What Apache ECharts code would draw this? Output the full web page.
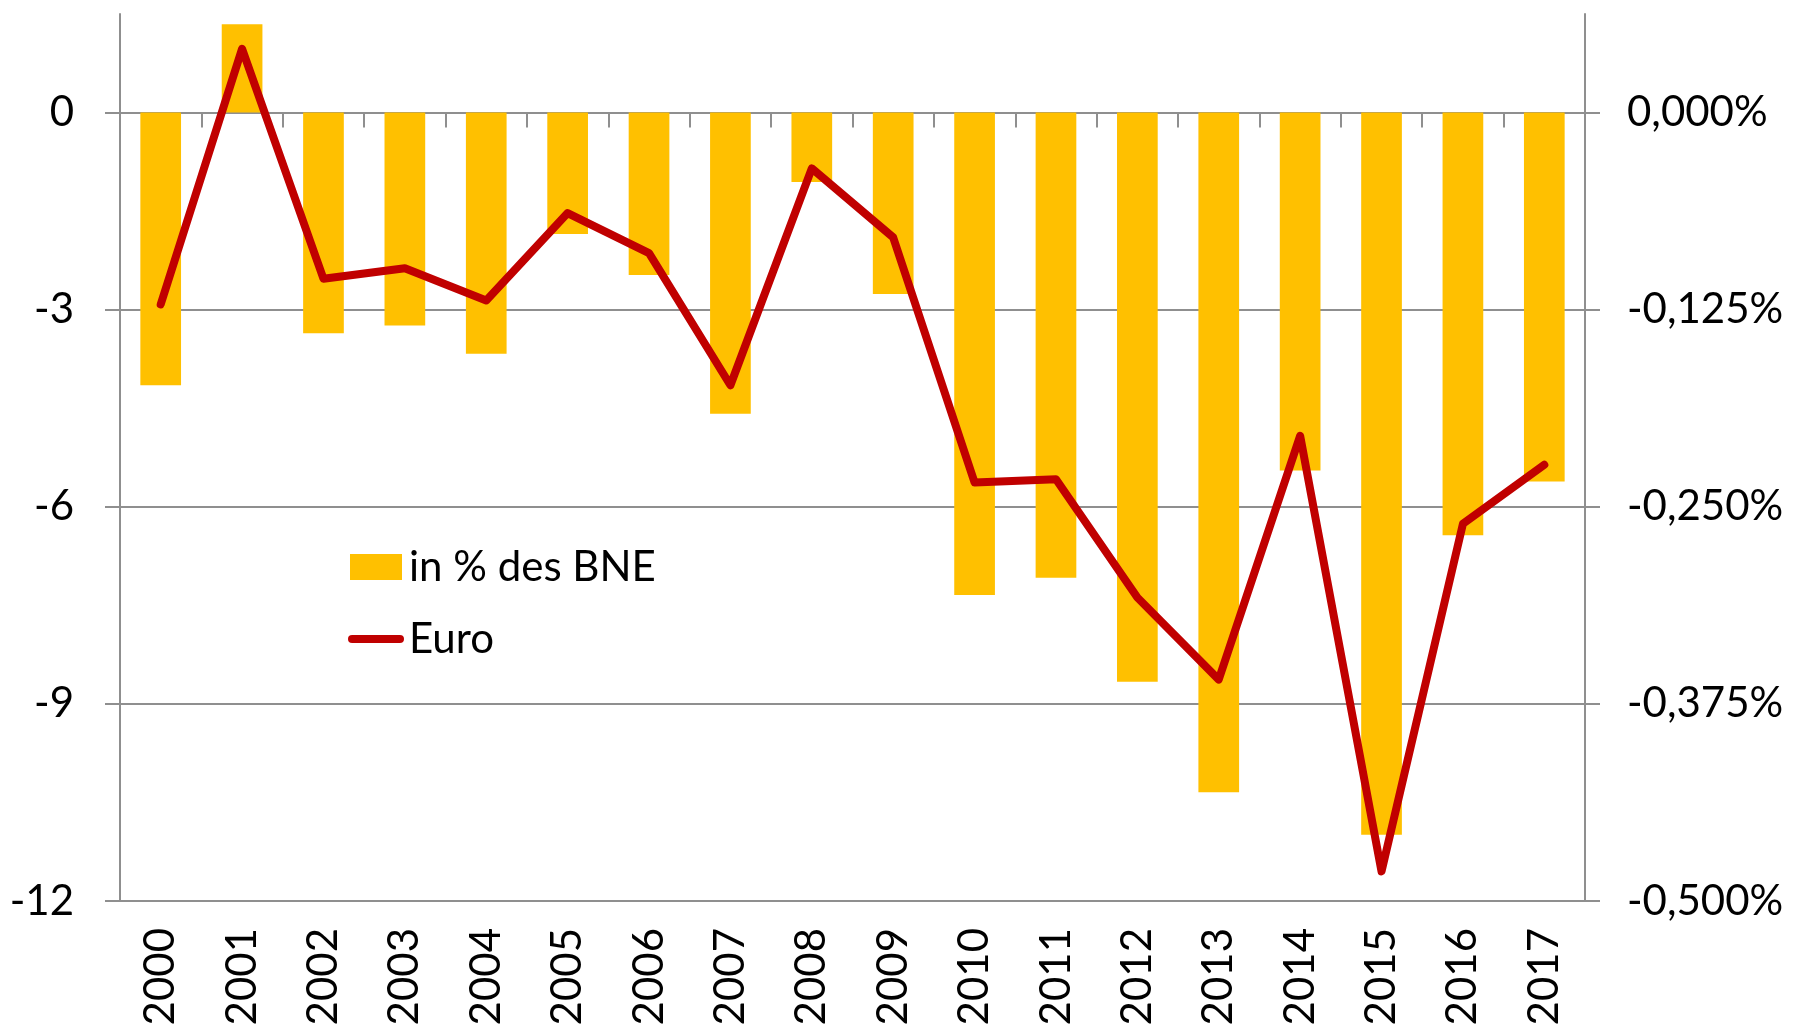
<!DOCTYPE html>
<html>
<head>
<meta charset="utf-8">
<script src="https://cdn.jsdelivr.net/npm/echarts@6/dist/echarts.min.js"></script>
<style>
	html, body { margin: 0; padding: 0; background: #fff; }
	#chart { width: 1793px; height: 1030px; }
</style>
</head>
<body>
<div id="chart"></div>
<script>
	// Jahre
	var years = ['2000', '2001', '2002', '2003', '2004', '2005', '2006', '2007', '2008',
		'2009', '2010', '2011', '2012', '2013', '2014', '2015', '2016', '2017']
	// in % des BNE (rechte Achse)
	var bnePct = [-0.173, 0.056, -0.140, -0.135, -0.153, -0.077, -0.103, -0.191, -0.044,
		-0.115, -0.306, -0.295, -0.361, -0.431, -0.227, -0.458, -0.268, -0.234]
	// Euro (linke Achse)
	var euro = [-2.92, 0.97, -2.53, -2.37, -2.86, -1.53, -2.14, -4.15, -0.85,
		-1.90, -5.63, -5.58, -7.38, -8.63, -4.92, -11.55, -6.26, -5.36]
	var leftTicks = [-12, -9, -6, -3, 0]
	var rightTicks = [-0.5, -0.375, -0.25, -0.125, 0]

	var font = 'Lato'
	var grey = '#8f8f8f'

	var chart = echarts.init(document.getElementById('chart'))
	var option = {
		animation: false,
		textStyle: { fontFamily: font },
		grid: { left: 120, right: 208, top: 14, bottom: 129 },
		legend: {
			orient: 'vertical',
			left: 343,
			top: 541,
			itemWidth: 56,
			itemHeight: 26,
			itemGap: 30,
			textStyle: { fontFamily: font, fontSize: 42, color: '#000' },
			data: [
				{ name: 'in % des BNE', icon: 'path://M0,0L52,0L52,26L0,26Z' },
				{ name: 'Euro', icon: 'path://M4.5,0L57.5,0A4.5,4.5,0,0,1,57.5,9L4.5,9A4.5,4.5,0,0,1,4.5,0Z' }
			]
		},
		xAxis: [
			{
				type: 'category',
				data: years,
				position: 'bottom',
				axisLine: { show: false, onZero: false },
				axisTick: { show: false },
				axisLabel: { rotate: 90, margin: 27, fontSize: 42, color: '#000', fontFamily: font, interval: 0 }
			},
			{
				type: 'category',
				data: years,
				position: 'bottom',
				axisLine: { show: true, onZero: true, lineStyle: { color: grey, width: 2 } },
				axisTick: { show: true, inside: false, length: 15, lineStyle: { color: grey, width: 2 } },
				axisLabel: { show: false }
			}
		],
		yAxis: [
			{
				type: 'value',
				min: -12,
				max: 1.5,
				interval: 3,
				axisLine: { show: true, lineStyle: { color: grey, width: 2 } },
				axisTick: { show: true, length: 15, customValues: leftTicks, lineStyle: { color: grey, width: 2 } },
				axisLabel: { margin: 46, fontSize: 42, color: '#000', fontFamily: font, customValues: leftTicks },
				splitLine: { show: true, showMaxLine: false, lineStyle: { color: grey, width: 2 } }
			},
			{
				type: 'value',
				min: -0.5,
				max: 0.0625,
				interval: 0.125,
				position: 'right',
				axisLine: { show: true, lineStyle: { color: grey, width: 2 } },
				axisTick: { show: true, length: 15, customValues: rightTicks, lineStyle: { color: grey, width: 2 } },
				axisLabel: {
					margin: 42, fontSize: 42, color: '#000', fontFamily: font,
					customValues: rightTicks,
					formatter: function (v) {
						return v.toFixed(3).replace('.', ',') + '%'
					}
				},
				splitLine: { show: false }
			}
		],
		series: [
			{
				name: 'in % des BNE',
				type: 'bar',
				xAxisIndex: 0,
				yAxisIndex: 1,
				barWidth: '50%',
				itemStyle: { color: '#FFC000' },
				data: bnePct
			},
			{
				name: 'Euro',
				type: 'line',
				xAxisIndex: 0,
				yAxisIndex: 0,
				symbol: 'none',
				lineStyle: { color: '#C00000', width: 8, cap: 'round', join: 'round' },
				itemStyle: { color: '#C00000' },
				data: euro
			}
		]
	}
	chart.setOption(option)
</script>
</body>
</html>
